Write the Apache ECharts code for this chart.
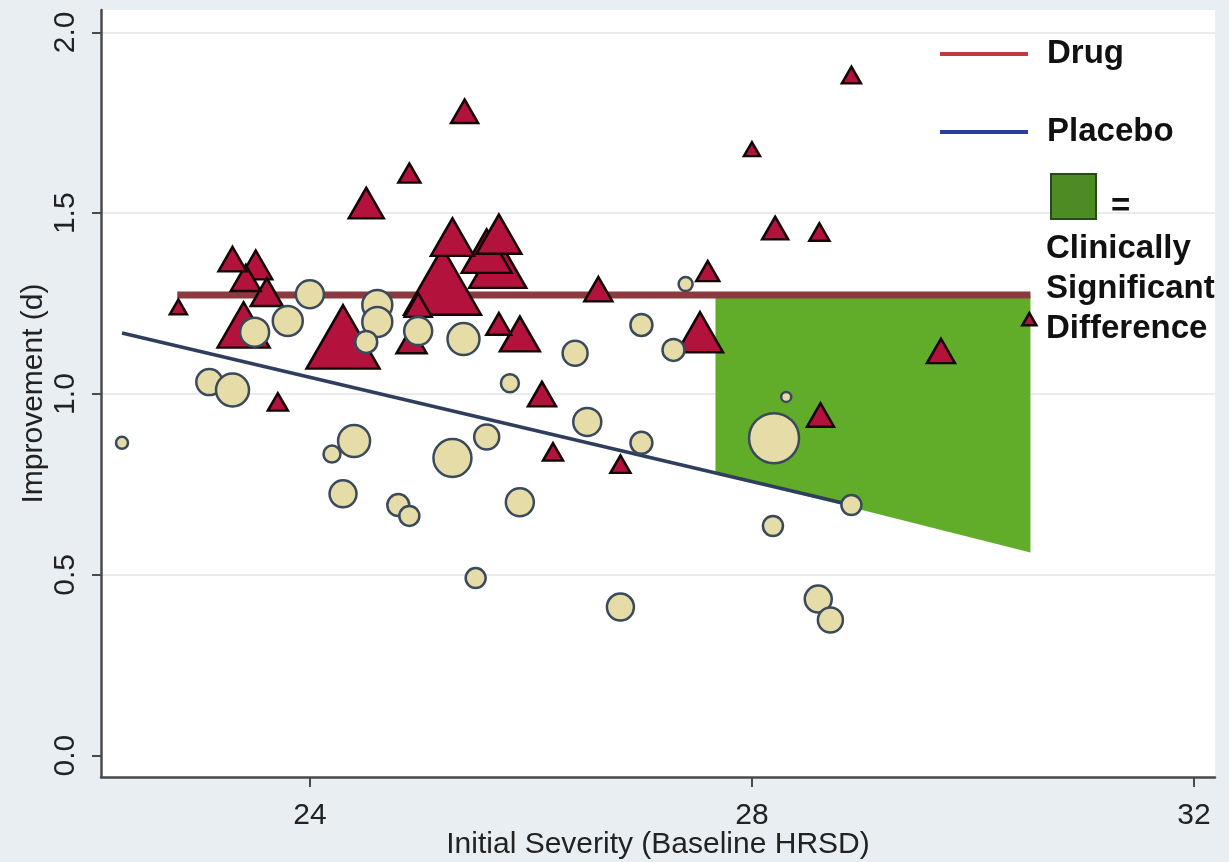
<!DOCTYPE html>
<html><head><meta charset="utf-8">
<script src="https://cdn.jsdelivr.net/npm/echarts@6/dist/echarts.min.js"></script>
<style>html,body{margin:0;padding:0;background:#e9eef2}#c{width:1229px;height:862px}</style>
</head><body><div id="c"></div>
<script>
// ---- data ----
const xTicks = [24, 28, 32];
const yTicks = [0.0, 0.5, 1.0, 1.5, 2.0];
const yGrid = [0.5, 1.0, 1.5, 2.0];

// placebo studies (circles): baseline severity, improvement d, relative weight
const placeboX = [22.30, 23.09, 23.30, 23.50, 23.80, 24.00, 24.61, 24.61, 24.51, 24.40, 24.20, 24.30, 24.80, 24.90, 24.98, 25.39, 25.29, 25.60, 25.81, 25.90, 25.50, 26.40, 26.51, 27.00, 27.00, 26.81, 27.29, 27.40, 28.20, 28.31, 28.90, 28.19, 28.60, 28.71];
const placeboY = [0.865, 1.033, 1.011, 1.171, 1.202, 1.276, 1.246, 1.199, 1.144, 0.870, 0.834, 0.724, 0.693, 0.663, 1.174, 1.152, 0.823, 0.881, 1.030, 0.701, 0.491, 1.113, 0.923, 1.191, 0.865, 0.411, 1.122, 1.304, 0.878, 0.992, 0.693, 0.635, 0.433, 0.375];
const placeboW = [1.2, 2.6, 3.3, 2.9, 3.0, 2.8, 3.0, 3.0, 2.2, 3.2, 1.7, 2.7, 2.2, 2.0, 2.8, 3.2, 3.8, 2.5, 1.8, 2.8, 2.0, 2.5, 2.8, 2.2, 2.2, 2.7, 2.2, 1.4, 5.0, 1.0, 2.0, 2.0, 2.7, 2.5];

// drug studies (triangles)
const drugX = [24.30, 25.20, 25.70, 23.40, 25.60, 27.53, 25.71, 25.29, 25.90, 24.51, 23.51, 23.61, 23.42, 24.92, 23.30, 26.61, 26.10, 29.71, 25.40, 24.98, 28.62, 28.21, 25.71, 27.60, 24.90, 23.71, 26.20, 26.81, 28.61, 28.90, 22.81, 28.00, 30.51];
const drugY = [1.158, 1.312, 1.362, 1.191, 1.395, 1.171, 1.442, 1.434, 1.166, 1.528, 1.357, 1.282, 1.321, 1.149, 1.373, 1.290, 1.000, 1.119, 1.782, 1.246, 0.942, 1.459, 1.194, 1.340, 1.611, 0.978, 0.840, 0.806, 1.448, 1.882, 1.241, 1.677, 1.207];
const drugW = [7.3, 7.7, 5.7, 5.2, 5.0, 4.6, 4.5, 4.3, 4.0, 3.5, 3.3, 3.2, 3.0, 3.0, 2.8, 2.8, 2.8, 2.8, 2.7, 2.7, 2.7, 2.6, 2.5, 2.3, 2.2, 2.0, 2.0, 2.0, 2.0, 1.9, 1.7, 1.6, 1.4];

// fitted lines
const drugFitX = [22.80, 30.52];
const drugFitY = [1.274, 1.274];
const placeboFitX = [22.30, 28.90];
const placeboFitY = [1.169, 0.693];

// clinically significant difference region
const diffX = [27.67, 30.52];
const diffTop = [1.274, 1.274];
const diffBottom = [0.782, 0.562];

// ---- chart ----
const markerScale = 10;
const FONT = '"Liberation Sans", Arial, Helvetica, sans-serif';
const chart = echarts.init(document.getElementById('c'), null, {renderer: 'canvas'});

const axisCol = '#4a4a4a';
const option = {
  backgroundColor: '#e9eef2',
  animation: false,
  grid: {left: 101, right: 14, top: 10, bottom: 85, show: true, backgroundColor: '#ffffff', borderWidth: 0,
    containLabel: false, outerBoundsMode: 'none'},
  xAxis: {
    type: 'value', min: 22.11, max: 32.19,
    name: 'Initial Severity (Baseline HRSD)', nameLocation: 'middle', nameGap: 53, nameMoveOverlap: false,
    nameTextStyle: {fontFamily: FONT, fontSize: 30, color: '#222'},
    axisLine: {show: true, onZero: false, lineStyle: {color: axisCol, width: 2.5}},
    axisTick: {show: true, length: 10, customValues: xTicks, lineStyle: {color: axisCol, width: 2}},
    axisLabel: {customValues: xTicks, fontFamily: FONT, fontSize: 30, color: '#222', margin: 24},
    splitLine: {show: false}
  },
  yAxis: {
    type: 'value', min: -0.059, max: 2.062,
    name: 'Improvement (d)', nameLocation: 'middle', nameGap: 52, nameRotate: 90, nameMoveOverlap: false,
    nameTextStyle: {fontFamily: FONT, fontSize: 30, color: '#222'},
    axisLine: {show: true, onZero: false, lineStyle: {color: axisCol, width: 2.5}},
    axisTick: {show: true, length: 9, customValues: yTicks, lineStyle: {color: axisCol, width: 2}},
    axisLabel: {customValues: yTicks, rotate: 90, fontFamily: FONT, fontSize: 30, color: '#222', margin: 20,
      formatter: v => v.toFixed(1)},
    splitLine: {show: false}
  },
  legend: {
    orient: 'vertical', left: 935, top: 31, itemWidth: 88, itemHeight: 4, itemGap: 42, icon: 'rect',
    textStyle: {fontFamily: FONT, fontSize: 33, fontWeight: 'bold', color: '#111', lineHeight: 36, padding: [0, 0, 0, 14]},
    data: [
      {name: 'Drug', itemStyle: {color: '#c23a3e'}},
      {name: 'Placebo', itemStyle: {color: '#2e3c9e'}}
    ],
    selectedMode: false
  },
  graphic: [
    {type: 'rect', left: 1050, top: 173, shape: {width: 45, height: 45}, style: {fill: '#4d8b25', stroke: '#2a4818', lineWidth: 2}, z: 100},
    {type: 'text', left: 1111, top: 190, style: {text: '=', font: 'bold 33px ' + FONT, fill: '#111'}, z: 100},
    {type: 'text', left: 1046, top: 229, style: {text: 'Clinically\nSignificant\nDifference', font: 'bold 33px ' + FONT, lineHeight: 40, fill: '#111'}, z: 100}
  ],
  series: [
    {
      type: 'line', name: '_grid', silent: true, data: [], z: 0,
      markLine: {silent: true, z: 0, symbol: 'none', label: {show: false},
        lineStyle: {color: '#ebebeb', width: 2, type: 'solid'},
        data: yGrid.map(v => ({yAxis: v}))}
    },
    {
      type: 'custom', name: 'Clinically Significant Difference', silent: true, z: 1,
      data: diffX.map((x, i) => [x, diffTop[i], diffBottom[i]]),
      renderItem: (params, api) => {
        if (params.dataIndexInside !== 0) return null;
        const n = params.dataInsideLength;
        const top = [], bot = [];
        for (let i = 0; i < n; i++) {
          top.push(api.coord([api.value(0, i), api.value(1, i)]));
          bot.push(api.coord([api.value(0, i), api.value(2, i)]));
        }
        return {type: 'polygon', shape: {points: top.concat(bot.reverse())}, style: {fill: '#61ad2a'}};
      }
    },
    {
      type: 'line', name: 'Drug', z: 2, symbol: 'none', silent: true,
      data: drugFitX.map((x, i) => [x, drugFitY[i]]),
      lineStyle: {color: '#8b3a3f', width: 7}
    },
    {
      type: 'line', name: 'Placebo', z: 2, symbol: 'none', silent: true,
      data: placeboFitX.map((x, i) => [x, placeboFitY[i]]),
      lineStyle: {color: '#2e3e5c', width: 3.5}
    },
    {
      type: 'scatter', name: 'Drug studies', z: 3, symbol: 'triangle',
      symbolSize: v => [v[2] * markerScale, v[2] * markerScale * 0.87],
      data: drugX.map((x, i) => [x, drugY[i], drugW[i]]),
      itemStyle: {color: '#b2123b', borderColor: '#140606', borderWidth: 2.5, opacity: 1}
    },
    {
      type: 'scatter', name: 'Placebo studies', z: 4, symbol: 'circle',
      symbolSize: v => v[2] * markerScale,
      data: placeboX.map((x, i) => [x, placeboY[i], placeboW[i]]),
      itemStyle: {color: '#e6dca7', borderColor: '#3a4a5c', borderWidth: 2.5, opacity: 1}
    }
  ]
};
chart.setOption(option);
</script></body></html>
